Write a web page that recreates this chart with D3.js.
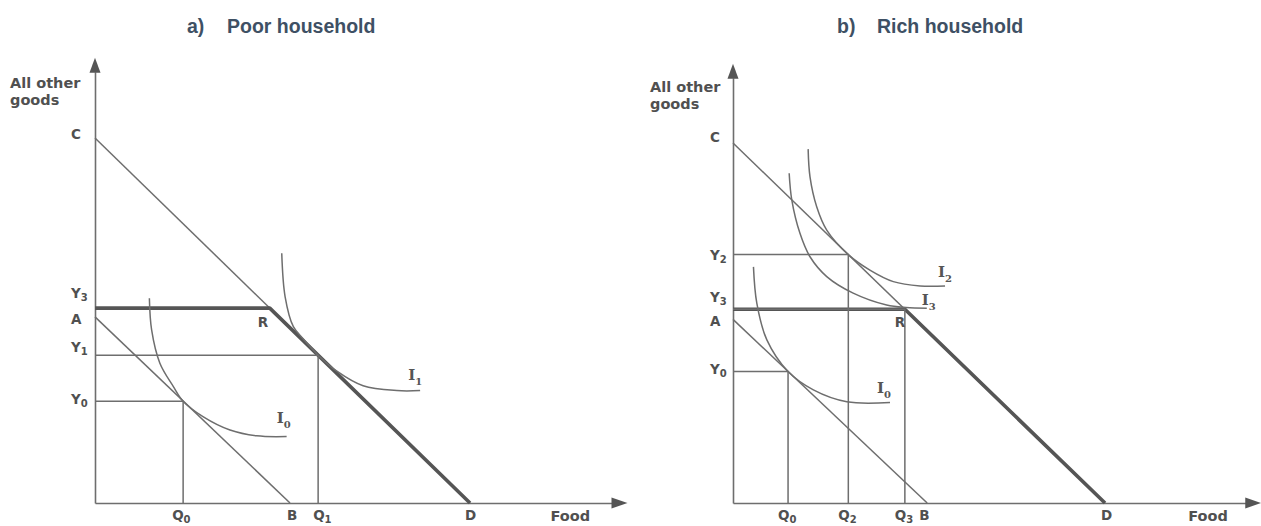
<!DOCTYPE html>
<html><head><meta charset="utf-8">
<script src="https://cdn.jsdelivr.net/npm/d3@7"></script>
<style>
body{margin:0;background:#fff;}
svg{display:block;}
.title{font-family:"Liberation Sans",Arial,sans-serif;font-weight:bold;font-size:19.5px;fill:#3e5064;}
.lab{font-family:"DejaVu Sans",Verdana,sans-serif;font-weight:bold;font-size:13.5px;fill:#505050;}
.axl{font-family:"DejaVu Sans",Verdana,sans-serif;font-weight:bold;font-size:14.5px;fill:#505050;}
.ilab{font-family:"DejaVu Serif",serif;font-weight:bold;font-size:15px;fill:#555;}
.sub{font-size:10px;}
</style></head><body>
<svg id="c" width="1261" height="526"></svg>
<script>
// ---------------- DATA ----------------
const panelLetters = ["a)", "b)"];
const panelNames = ["Poor household", "Rich household"];
const yAxisTitle = ["All other", "goods"];
const xAxisTitle = "Food";
const axisTips = [142, 122]; // axis extents in data units [x, y]

// a) Poor household
const poorCD = [100, 100];          // C (y-intercept), D (x-intercept)
const poorAB = [51, 52];            // A (y-intercept), B (x-intercept)
const poorY3 = 53.4;
const poorQ1 = 59.5, poorY1 = 40.5;
const poorQ0 = 23.5, poorY0 = 27.9;
const poorI0 = [[14.5,56.1],[15.1,47.4],[17.3,38.3],[20.9,31.9],[23.5,27.9],[28.9,23.6],[36.0,20.0],[43.1,18.4],[51.1,18.2]];
const poorI1 = [[49.8,68.4],[50.7,56.5],[52.9,48.3],[55.5,45.0],[59.5,40.5],[64.5,36.1],[71.5,32.1],[80.5,30.8],[86.7,30.8]];

// b) Rich household
const richCD = [100, 100];
const richAB = [51, 52.2];
const richY3 = 53.8;
const richQ2 = 31, richY2 = 69;
const richQ0 = 14.8, richY0 = 36.5;
const richI0 = [[5.5,65.6],[6.4,55.5],[9.1,45.3],[14.8,36.5],[21.6,31.4],[30.6,28.1],[42.2,27.9]];
const richI2 = [[20.2,98.3],[20.7,90.6],[22.5,82.3],[25.2,75.8],[31,69],[36.8,64.7],[43.1,61.5],[50.3,60.3],[57.0,60.3]];
const richI3 = [[15.1,91.6],[15.8,84.2],[18.0,74.9],[20.7,68.4],[25.2,62.9],[32.3,58.3],[41.3,55.0],[46.5,54.3],[52.1,54.1]];

// ---------------- DRAW ----------------
const svg = d3.select("#c");
const thin = "#6e6e6e", thick = "#555";

function makePanel(cfg) {
  const x = d3.scaleLinear().domain([0, 100]).range(cfg.xr);
  const y = d3.scaleLinear().domain([0, 100]).range(cfg.yr);
  const g = svg.append("g");
  const line = d3.line().x(d => x(d[0])).y(d => y(d[1]));
  const curve = d3.line().x(d => x(d[0])).y(d => y(d[1])).curve(d3.curveCatmullRom.alpha(0.5));
  const seg = (pts, w, c) => g.append("path").attr("d", line(pts)).attr("fill", "none")
    .attr("stroke", c || thin).attr("stroke-width", w || 1.5).attr("stroke-linejoin", "round");

  // title
  const t = g.append("text").attr("class", "title").attr("y", 33);
  t.append("tspan").attr("x", cfg.titleX).text(cfg.letter);
  t.append("tspan").attr("x", cfg.titleX + 40).text(cfg.name);

  // axes
  const xt = axisTips[0], yt = axisTips[1];
  g.append("g").attr("transform", `translate(0,${y(0)})`)
    .call(d3.axisBottom(d3.scaleLinear().domain([0, xt]).range([x(0), x(xt) - 14])).tickValues([]).tickSizeOuter(0))
    .call(s => s.select(".domain").attr("stroke", thin).attr("stroke-width", 1.6));
  g.append("g").attr("transform", `translate(${x(0)},0)`)
    .call(d3.axisLeft(d3.scaleLinear().domain([0, yt]).range([y(0), y(yt) + 14])).tickValues([]).tickSizeOuter(0))
    .call(s => s.select(".domain").attr("stroke", thin).attr("stroke-width", 1.6));
  const xtip = [x(xt), y(0)], ytip = [x(0), y(yt)];
  g.append("path").attr("d", `M${xtip[0]},${xtip[1]}L${xtip[0]-16},${xtip[1]-5.5}L${xtip[0]-16},${xtip[1]+5.5}Z`).attr("fill", "#555");
  g.append("path").attr("d", `M${ytip[0]},${ytip[1]}L${ytip[0]-5.5},${ytip[1]+15}L${ytip[0]+5.5},${ytip[1]+15}Z`).attr("fill", "#555");

  // axis titles
  yAxisTitle.forEach((s, i) => g.append("text").attr("class", "axl")
    .attr("x", x(0) - cfg.yTitleDx).attr("y", cfg.yTitleY + i * 17).text(s));
  g.append("text").attr("class", "axl").attr("x", x(xt) - cfg.foodDx).attr("y", y(0) + cfg.foodDy).text(xAxisTitle);

  // budget lines
  const [C, D] = cfg.CD, [A, B] = cfg.AB;
  seg([[0, C], [D, 0]]);
  seg([[0, A], [B, 0]]);
  const Rx = D * (1 - cfg.Y3 / C);
  seg([[0, cfg.Y3], [Rx, cfg.Y3], [D, 0]], 3.6, thick);

  // guide lines
  cfg.guides.forEach(([q, v]) => seg([[0, v], [q, v], [q, 0]]));

  // indifference curves
  cfg.curves.forEach(c => g.append("path").attr("d", curve(c.pts)).attr("fill", "none")
    .attr("stroke", thin).attr("stroke-width", 1.5));

  // labels with optional subscript
  function lab(cls, px, py, main, sub, subDy) {
    const tx = g.append("text").attr("class", cls).attr("x", px).attr("y", py).text(main);
    if (sub !== undefined) tx.append("tspan").attr("class", "sub").attr("dy", subDy || 3).text(sub);
  }
  cfg.yLabels.forEach(l => lab("lab", x(0) + cfg.yLabDx, y(l.v) + l.dy, l.t, l.s));
  cfg.xLabels.forEach(l => lab("lab", x(l.v) + l.dx, y(0) + cfg.xLabDy, l.t, l.s));
  cfg.curves.forEach(c => {
    const e = c.pts[c.pts.length - 1];
    lab("ilab", x(e[0]) + c.dx, y(e[1]) + c.dy, "I", c.s, 5);
  });
  lab("lab", x(Rx) + cfg.Roff[0], y(cfg.Y3) + cfg.Roff[1], "R");
}

makePanel({
  letter: panelLetters[0], name: panelNames[0], titleX: 187,
  xr: [95, 470], yr: [503, 138],
  CD: poorCD, AB: poorAB, Y3: poorY3,
  guides: [[poorQ1, poorY1], [poorQ0, poorY0]],
  curves: [{pts: poorI0, s: "0", dx: -10, dy: -14}, {pts: poorI1, s: "1", dx: -12, dy: -11}],
  yTitleDx: 85, yTitleY: 88, foodDx: 77, foodDy: 18,
  yLabDx: -24, xLabDy: 17,
  yLabels: [{t: "C", v: poorCD[0], dy: 1}, {t: "Y", s: "3", v: poorY3, dy: -10}, {t: "A", v: poorAB[0], dy: 7},
            {t: "Y", s: "1", v: poorY1, dy: -3}, {t: "Y", s: "0", v: poorY0, dy: 3}],
  xLabels: [{t: "Q", s: "0", v: poorQ0, dx: -11}, {t: "B", v: poorAB[1], dx: -3}, {t: "Q", s: "1", v: poorQ1, dx: -5},
            {t: "D", v: poorCD[1], dx: -5}],
  Roff: [-12, 19]
});

makePanel({
  letter: panelLetters[1], name: panelNames[1], titleX: 837,
  xr: [733, 1105], yr: [503, 143],
  CD: richCD, AB: richAB, Y3: richY3,
  guides: [[richQ2, richY2], [richQ0, richY0], [richCD[1] * (1 - richY3 / richCD[0]), richY3]],
  curves: [{pts: richI0, s: "0", dx: -13, dy: -10}, {pts: richI2, s: "2", dx: -7, dy: -9}, {pts: richI3, s: "3", dx: -5, dy: -3}],
  yTitleDx: 83, yTitleY: 92, foodDx: 73, foodDy: 18,
  yLabDx: -23, xLabDy: 17,
  yLabels: [{t: "C", v: richCD[0], dy: -1}, {t: "Y", s: "2", v: richY2, dy: 5}, {t: "Y", s: "3", v: richY3, dy: -7},
            {t: "A", v: richAB[0], dy: 7}, {t: "Y", s: "0", v: richY0, dy: 2}],
  xLabels: [{t: "Q", s: "0", v: richQ0, dx: -10}, {t: "Q", s: "2", v: richQ2, dx: -10},
            {t: "Q", s: "3", v: richCD[1] * (1 - richY3 / richCD[0]), dx: -10}, {t: "B", v: richAB[1], dx: -8},
            {t: "D", v: richCD[1], dx: -4}],
  Roff: [-10, 18]
});
</script>
</body></html>
